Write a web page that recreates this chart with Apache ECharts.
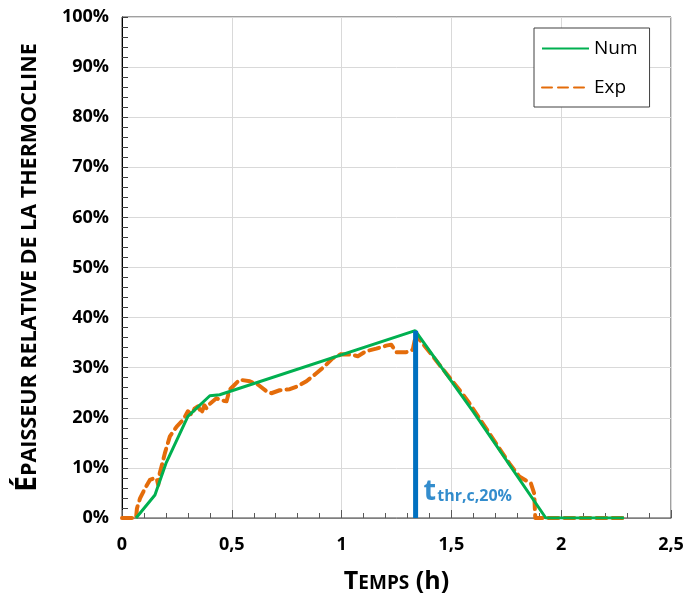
<!DOCTYPE html>
<html>
<head>
<meta charset="utf-8">
<script src="https://cdn.jsdelivr.net/npm/echarts@6/dist/echarts.min.js"></script>
<style>
html,body{margin:0;padding:0;background:#fff;}
#chart{width:687px;height:603px;}
</style>
</head>
<body>
<div id="chart"></div>
<script>
// Tick labels
const xTicks = [0, 0.5, 1, 1.5, 2, 2.5];
const yTicks = [0, 10, 20, 30, 40, 50, 60, 70, 80, 90, 100];

// Num (simulation)
const numT = [0.064, 0.15, 0.20, 0.30, 0.40, 0.445, 1.335, 1.60, 1.93, 2.286];
const numY = [0, 4.6, 10.9, 20.3, 24.4, 24.6, 37.4, 21.2, 0, 0];

// Exp (measurement)
const expT = [0, 0.064, 0.068, 0.082, 0.105, 0.127, 0.145, 0.158, 0.165, 0.172, 0.18, 0.195, 0.218, 0.25, 0.279, 0.30, 0.317, 0.33, 0.347, 0.362, 0.375, 0.385, 0.40, 0.408, 0.43, 0.453, 0.476, 0.49, 0.506, 0.536, 0.582, 0.62, 0.658, 0.68, 0.718, 0.764, 0.80, 0.84, 0.877, 0.923, 0.96, 0.998, 1.044, 1.074, 1.112, 1.158, 1.203, 1.226, 1.249, 1.294, 1.324, 1.34, 1.355, 1.415, 1.476, 1.536, 1.582, 1.627, 1.673, 1.718, 1.764, 1.809, 1.862, 1.877, 1.882, 2.286];
const expY = [0, 0, 1.9, 3.9, 5.9, 7.6, 7.9, 7.9, 6.6, 9.0, 10.3, 12.9, 16.3, 18.3, 19.6, 21.3, 20.6, 21.8, 22.3, 20.9, 22.5, 21.9, 22.8, 22.6, 23.9, 23.5, 23.3, 25.6, 26.3, 27.6, 27.3, 26.6, 25.3, 24.9, 25.5, 25.7, 26.3, 27.3, 28.6, 30.3, 31.9, 32.7, 32.6, 32.3, 33.3, 33.8, 34.4, 34.6, 33.1, 33.1, 33.6, 36.9, 35.6, 32.3, 28.9, 25.6, 22.9, 19.9, 16.9, 13.9, 10.9, 8.3, 6.9, 4.9, 0, 0];

// Threshold marker
const thrT = [1.337, 1.337];
const thrY = [0, 37.4];
const thrLabel = 'thr,c,20%';

const FONT = 'Open Sans';
const zip = (a, b) => a.map((v, i) => [v, b[i]]);

const chart = echarts.init(document.getElementById('chart'));
chart.setOption({
  animation: false,
  backgroundColor: '#fff',
  grid: {left: 122, top: 17, right: 16, bottom: 85, show: true, borderColor: '#404040', borderWidth: 1},
  legend: {
    orient: 'vertical', left: 534, top: 28,
    padding: [11, 12, 10, 7], itemGap: 20,
    itemWidth: 47, itemHeight: 14,
    borderColor: '#404040', borderWidth: 1, backgroundColor: '#fff',
    itemStyle: {opacity: 0},
    textStyle: {fontFamily: FONT, fontSize: 19, color: '#000'},
    data: ['Num', 'Exp']
  },
  xAxis: {
    type: 'value', min: xTicks[0], max: xTicks[xTicks.length - 1], interval: 0.5,
    name: '{b|T}{s|EMPS}{b| (h)}', nameLocation: 'middle', nameGap: 51,
    nameTextStyle: {rich: {
      b: {fontFamily: FONT, fontWeight: 'bold', fontSize: 25, color: '#000', verticalAlign: 'bottom'},
      s: {fontFamily: FONT, fontWeight: 'bold', fontSize: 19, color: '#000', verticalAlign: 'bottom', padding: [0, 0, 1, 0]}
    }},
    axisLine: {lineStyle: {color: '#7f7f7f', width: 1}},
    axisTick: {show: true, inside: true, length: 8, lineStyle: {color: '#595959'}},
    minorTick: {show: true, splitNumber: 5, length: 5, lineStyle: {color: '#595959'}},
    splitLine: {show: true, lineStyle: {color: '#d9d9d9', width: 1}},
    axisLabel: {margin: 18, fontFamily: FONT, fontWeight: 'bold', fontSize: 18, color: '#000',
      formatter: v => String(v).replace('.', ',')}
  },
  yAxis: {
    type: 'value', min: yTicks[0], max: yTicks[yTicks.length - 1], interval: 10,
    name: '{b|É}{s|PAISSEUR RELATIVE DE LA THERMOCLINE}', nameLocation: 'middle', nameGap: 80,
    nameTextStyle: {rich: {
      b: {fontFamily: FONT, fontWeight: 'bold', fontSize: 28, color: '#000', verticalAlign: 'bottom'},
      s: {fontFamily: FONT, fontWeight: 'bold', fontSize: 21.5, color: '#000', verticalAlign: 'bottom', padding: [0, 0, 1, 0]}
    }},
    axisLine: {show: true, lineStyle: {color: '#000', width: 1}},
    axisTick: {show: true, inside: true, length: 6, lineStyle: {color: '#404040'}},
    minorTick: {show: true, splitNumber: 5, length: 6, lineStyle: {color: '#404040'}},
    splitLine: {show: true, lineStyle: {color: '#d9d9d9', width: 1}},
    axisLabel: {margin: 13, fontFamily: FONT, fontWeight: 'bold', fontSize: 18, color: '#000',
      formatter: v => v + '%'}
  },
  series: [
    {
      name: 'Num', type: 'line', data: zip(numT, numY), symbol: 'none', z: 3,
      lineStyle: {color: '#00B050', width: 3}, itemStyle: {color: '#00B050'}
    },
    {
      name: 'Exp', type: 'line', data: zip(expT, expY), symbol: 'none', z: 2,
      lineStyle: {color: '#E46C0A', width: 4, type: [10, 6], cap: 'round', join: 'round'}, itemStyle: {color: '#E46C0A'}
    },
    {
      name: 'thr', type: 'line', symbol: 'none', z: 4, silent: true,
      lineStyle: {color: '#0070C0', width: 5}, itemStyle: {color: '#0070C0'},
      data: zip(thrT, thrY)
    },
    {
      name: 'thrLabel', type: 'scatter', symbolSize: 0, z: 5, silent: true,
      data: [[thrT[0], thrY[0]]],
      label: {
        show: true, position: 'right', distance: 8, offset: [0, -28],
        formatter: '{t|t}{s|' + thrLabel + '}',
        rich: {
          t: {fontFamily: FONT, fontWeight: 'bold', fontSize: 29, color: '#0070C0', verticalAlign: 'bottom', lineHeight: 32},
          s: {fontFamily: FONT, fontWeight: 'bold', fontSize: 16, color: '#0070C0', verticalAlign: 'bottom', padding: [0, 0, 2, 1]}
        }
      }
    }
  ]
});
</script>
</body>
</html>
